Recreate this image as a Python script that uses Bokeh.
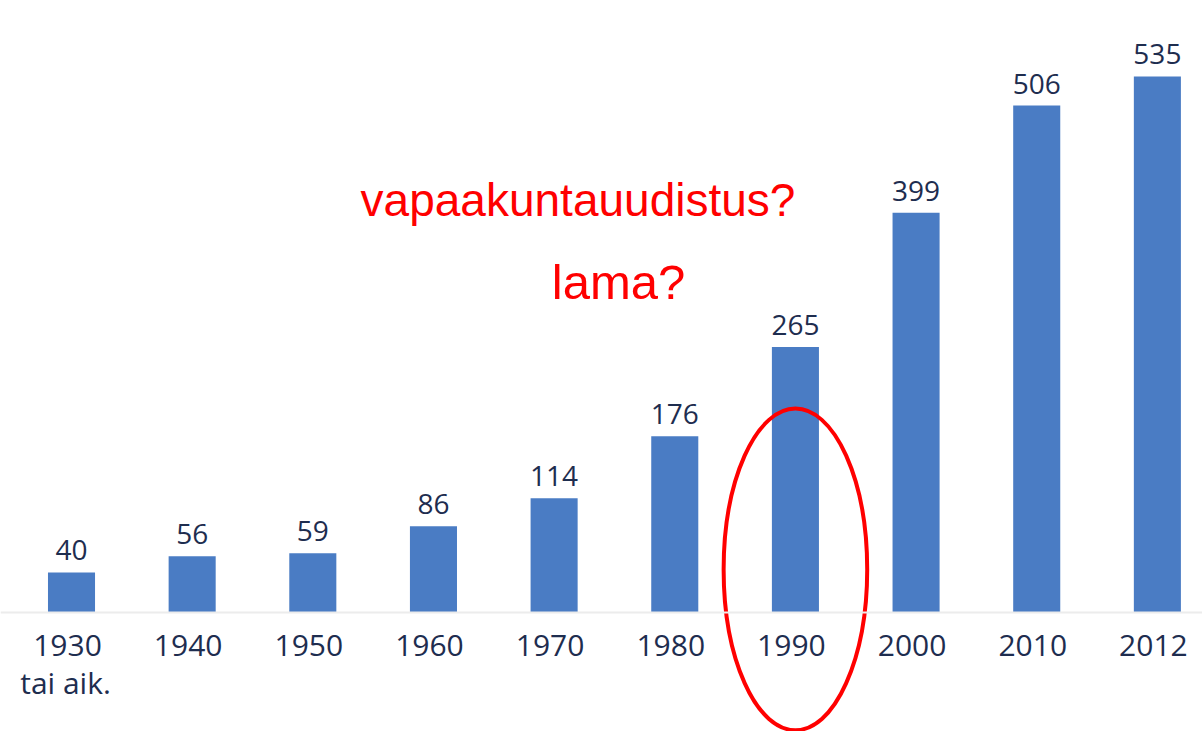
from bokeh.plotting import figure
from bokeh.models import ColumnDataSource, Range1d, Label, Span
from bokeh.core.properties import value
from bokeh.embed import file_html
from bokeh.resources import INLINE

# ---- data ----
years = ["1930", "1940", "1950", "1960", "1970", "1980", "1990", "2000", "2010", "2012"]
sublabels = ["tai aik.", "", "", "", "", "", "", "", "", ""]
counts = [40, 56, 59, 86, 114, 176, 265, 399, 506, 535]
note_top = "vapaakuntauudistus?"
note_bottom = "lama?"
highlight_year = "1990"

xs = list(range(len(years)))
src = ColumnDataSource(dict(x=xs, top=counts, year=years, sub=sublabels,
                            lbl=[str(c) for c in counts]))

W, H = 1202, 731
p = figure(width=W, height=H, output_backend="svg", toolbar_location=None,
           x_range=Range1d(-0.5885, 9.374), y_range=Range1d(-118.8, 610.8),
           min_border=0, min_border_left=0, min_border_right=0,
           min_border_top=0, min_border_bottom=0)
p.axis.visible = False
p.grid.visible = False
p.outline_line_color = None
p.background_fill_color = "white"
p.border_fill_color = "white"

BAR = "#4a7cc4"
INK = "#1e2d4f"

p.add_layout(Span(location=0, dimension="width", line_color="#ececec", line_width=2))

p.vbar(x="x", top="top", width=0.39, bottom=0, source=src,
       fill_color=BAR, line_color=None)

p.text(x="x", y="top", text="lbl", source=src, text_align="center",
       text_baseline="alphabetic", y_offset=-22, text_color=INK,
       text_font=value("Open Sans"), text_font_size="28px")

p.text(x="x", y=0, text="year", source=src, text_align="center",
       text_baseline="alphabetic", y_offset=33, x_offset=-4, text_color=INK,
       text_font=value("Open Sans"), text_font_size="30px")

p.text(x="x", y=0, text="sub", source=src, text_align="center",
       text_baseline="alphabetic", y_offset=70, x_offset=-6, text_color=INK,
       text_font=value("Open Sans"), text_font_size="30px")

p.add_layout(Label(x=4.198, y=412, text=note_top, text_align="center",
                   text_baseline="alphabetic", text_color="#ff0000",
                   text_font="Liberation Sans", text_font_size="46px"))
p.add_layout(Label(x=4.534, y=330, text=note_bottom, text_align="center",
                   text_baseline="alphabetic", text_color="#ff0000",
                   text_font="Liberation Sans", text_font_size="49px"))

hx = years.index(highlight_year)
p.ellipse(x=[hx], y=[43], width=[1.19], height=[321], fill_color=None,
          line_color="#ff0000", line_width=4)

open("out.html", "w").write(file_html(p, INLINE))
